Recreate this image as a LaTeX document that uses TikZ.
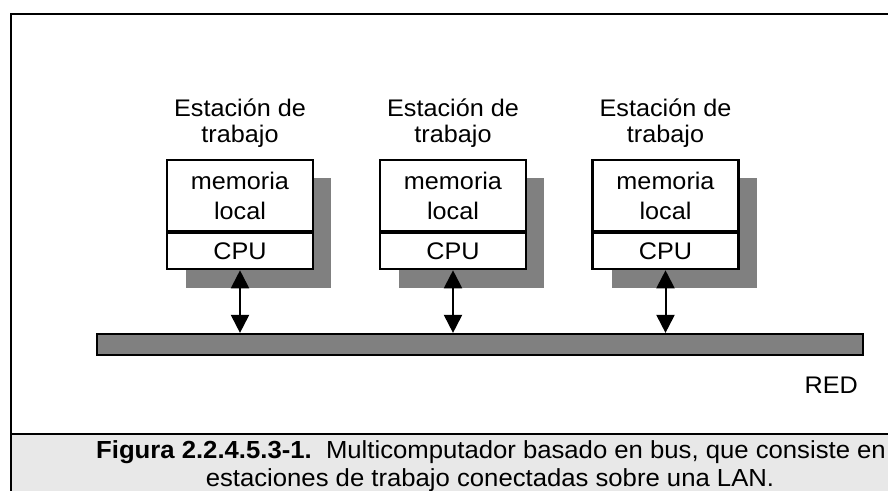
\documentclass[tikz,border=0pt]{standalone}
\usepackage{fontspec}
\setmainfont{Liberation Sans}[FakeStretch=1.05]
\newfontfamily\capfont{Liberation Sans}[FakeStretch=1.04]
\usetikzlibrary{arrows.meta}
\definecolor{shadowgray}{HTML}{808080}
\definecolor{capgray}{HTML}{E8E8E8}
\begin{document}
\begin{tikzpicture}[x=1pt,y=-1pt,
  txt/.style={font=\fontsize{24}{26}\selectfont, inner sep=0pt},
  membox/.style={draw, line width=2.2pt, fill=white, minimum width=146pt, minimum height=71pt, inner sep=0pt, font=\fontsize{24}{30}\selectfont, align=center},
  cpubox/.style={draw, line width=2.2pt, fill=white, minimum width=146pt, minimum height=36pt, inner sep=0pt, font=\fontsize{24}{26}\selectfont},
  shade/.style={fill=shadowgray, draw=none},
  link/.style={line width=2pt, {Triangle[length=18pt,width=18pt]}-{Triangle[length=18pt,width=18pt]}},
  label/.style={txt, align=center, anchor=south},
  captxt/.style={font=\capfont\fontsize{24.7}{27}\selectfont, inner sep=0pt}
]
\useasboundingbox (0,0) rectangle (888,490);
\clip (0,0) rectangle (888,490);
% frame and caption area
\fill[capgray] (11,434) rectangle (910,510);
\draw[line width=2.6pt] (11,520) -- (11,14) -- (910,14);
\draw[line width=2.2pt] (11,434) -- (910,434);

% shadows
\foreach \cx in {240,453,665.5}{
  \fill[shade] (\cx-73+19,178) rectangle (\cx+73+18,288);
}
% workstation boxes
\node[membox] (mem1) at (240,195.5) {memoria\\local};
\node[cpubox, anchor=north] (cpu1) at (mem1.south) {CPU};
\node[membox] (mem2) at (453,195.5) {memoria\\local};
\node[cpubox, anchor=north] (cpu2) at (mem2.south) {CPU};
\node[membox] (mem3) at (665.5,195.5) {memoria\\local};
\node[cpubox, anchor=north] (cpu3) at (mem3.south) {CPU};

\node[label] (lab1) at (240,148) {Estación de\\trabajo};
\node[label] (lab2) at (453,148) {Estación de\\trabajo};
\node[label] (lab3) at (665.5,148) {Estación de\\trabajo};

% bus
\node[draw, line width=2.2pt, fill=shadowgray, minimum width=766pt, minimum height=21pt, inner sep=0pt] (bus) at (480,344.5) {};
\node[txt, anchor=base east] (red) at (858,393) {RED};

% links
\draw[link] (cpu1.south) -- (cpu1.south |- bus.north);
\draw[link] (cpu2.south) -- (cpu2.south |- bus.north);
\draw[link] (cpu3.south) -- (cpu3.south |- bus.north);

% caption
\node[captxt, anchor=base west] (cap1) at (96,458)
  {\textbf{Figura 2.2.4.5.3-1.}\ \ Multicomputador basado en bus, que consiste en};
\node[captxt, anchor=base] (cap2) at (490,486.5) {estaciones de trabajo conectadas sobre una LAN.};
\end{tikzpicture}
\end{document}
